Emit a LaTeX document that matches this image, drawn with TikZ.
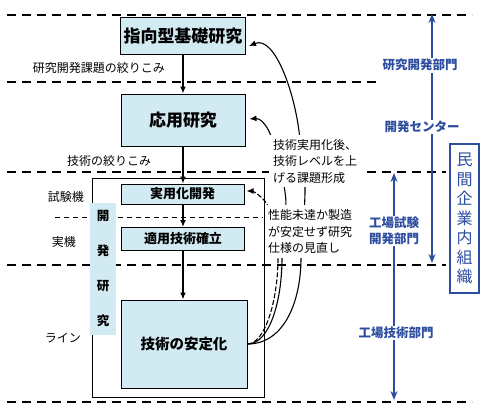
\documentclass[tikz,border=0pt]{standalone}
\usepackage{fontspec}
\setmainfont{Noto Sans CJK JP}
\usetikzlibrary{arrows.meta,calc}
\definecolor{boxblue}{RGB}{210,234,241}
\definecolor{orgblue}{RGB}{44,77,160}
\begin{document}
\begin{tikzpicture}[x=1pt,y=-1pt,
  bluebox/.style={draw=black,line width=1pt,fill=boxblue,inner sep=0pt,font=\bfseries},
  thickdash/.style={line width=2.4pt,dash pattern=on 9pt off 6pt},
  thindash/.style={line width=0.9pt,dash pattern=on 5pt off 4pt},
  flow/.style={line width=1.3pt,-{Latex[length=7pt,width=6pt]}},
  fb/.style={line width=1.1pt,-{Latex[length=7pt,width=6pt]}},
  blab/.style={text=orgblue,font=\fontsize{12.5}{16}\selectfont\bfseries,fill=white,inner sep=1.5pt,align=center},
  barr/.style={draw=orgblue,line width=2pt,{Stealth[length=9pt,width=7pt,inset=3pt]}-{Stealth[length=9pt,width=7pt,inset=3pt]}},
  lab/.style={font=\fontsize{12}{14}\selectfont,inner sep=0pt},
  note/.style={font=\fontsize{12}{16.5}\selectfont,fill=white,align=left,text width=86pt,inner xsep=4pt,inner ysep=4pt},
]
\useasboundingbox (0,0) rectangle (491,416);

% outer box
\node[draw=black,line width=1pt,minimum width=172pt,minimum height=219pt,inner sep=0pt] (outer) at (178,287.5) {};

% dashed separators
\draw[thickdash] (7,15) -- (472,15);
\draw[thickdash] (7,82) -- (380,82);
\draw[thickdash] (7,172) -- (446,172);
\draw[thickdash] (7,265) -- (446,265);
\draw[thickdash] (7,402) -- (472,402);
\draw[thindash] (55,217) -- (263,217);

% strip
\node[fill=boxblue,minimum width=26pt,minimum height=132pt,inner sep=0pt,
      font=\fontsize{12.5}{35}\selectfont\bfseries,align=center] (strip) at (103,269) {開\\発\\研\\究};

% boxes
\node[bluebox,minimum width=125pt,minimum height=37pt,font=\fontsize{17}{20}\selectfont\bfseries] (n1) at (183,36) {指向型基礎研究};
\node[bluebox,minimum width=124pt,minimum height=52pt,font=\fontsize{17}{20}\selectfont\bfseries] (n2) at (183,120) {応用研究};
\node[bluebox,minimum width=123pt,minimum height=20pt,font=\fontsize{13}{15}\selectfont\bfseries] (n3) at (182.5,194) {実用化開発};
\node[bluebox,minimum width=123pt,minimum height=23pt,font=\fontsize{13}{15}\selectfont\bfseries] (n4) at (183,239) {適用技術確立};
\node[bluebox,minimum width=126pt,minimum height=88pt,font=\fontsize{14.5}{17}\selectfont\bfseries] (n5) at (184,344) {技術の安定化};

% flow arrows
\draw[flow] (n1.south -| 183,0) -- (n2.north -| 183,0);
\draw[flow] (n2.south -| 183,0) -- (n3.north -| 183,0);
\draw[flow] (n3.south -| 183,0) -- (n4.north -| 183,0);
\draw[flow] (n4.south -| 183,0) -- (n5.north -| 183,0);

% left labels
\node[lab] (l1) at (99,68) {研究開発課題の絞りこみ};
\node[lab] (l2) at (109,161) {技術の絞りこみ};
\node[lab] (l3) at (66,197) {試験機};
\node[lab] (l4) at (64,242) {実機};
\node[lab] (l5) at (63,338) {ライン};

% feedback curves
\coordinate (S) at (n5.east);
\coordinate (tA) at ($(n1.east)+(3,10)$);
\coordinate (tB) at ($(n2.east)+(4,-1)$);
\coordinate (tC) at ($(n3.east)+(2,-3)$);
\draw[fb] (S) .. controls (285,344) and (301,300) .. (301,258)
  .. controls (302,230) and (305,210) .. (305,190)
  .. controls (305,170) and (301,155) .. (300,140)
  .. controls (296,95) and (275,35) .. (tA);
\draw[fb] (S) .. controls (270,344) and (282,300) .. (282,258)
  .. controls (283,230) and (288,210) .. (285,192)
  .. controls (282,170) and (275,150) .. (271,136)
  .. controls (267,125) and (260,118) .. (tB);
\draw[fb,dash pattern=on 5pt off 2pt] (S) .. controls (265,344) and (278,300) .. (278,258)
  .. controls (278,225) and (270,205) .. (262,198)
  .. controls (257,193) and (252,191) .. (tC);

% notes
\node[note] (t1) at (316,161) {技術実用化後、\\技術レベルを上\\げる課題形成};
\node[note,inner xsep=3pt] (t2) at (311,231.5) {性能未達か製造\\が安定せず研究\\仕様の見直し};

% organisation arrows
\coordinate (a1t) at (432,14);
\coordinate (a1b) at (432,263);
\coordinate (a2t) at (394,173);
\coordinate (a2b) at (394,400);
\draw[barr] (a1t) -- (a1b);
\draw[barr] (a2t) -- (a2b);
\node[blab] (b1) at (420,65) {研究開発部門};
\node[blab] (b2) at (422,127) {開発センター};
\node[blab] (b3) at (394,231) {工場試験\\開発部門};
\node[blab] (b4) at (396,333) {工場技術部門};

\node[draw=orgblue,line width=1.3pt,fill=white,text=orgblue,minimum width=29pt,minimum height=149pt,
      inner sep=0pt,align=center,font=\fontsize{16}{19.5}\selectfont] (org) at (464.5,218.5) {民\\間\\企\\業\\内\\組\\織};
\end{tikzpicture}
\end{document}
